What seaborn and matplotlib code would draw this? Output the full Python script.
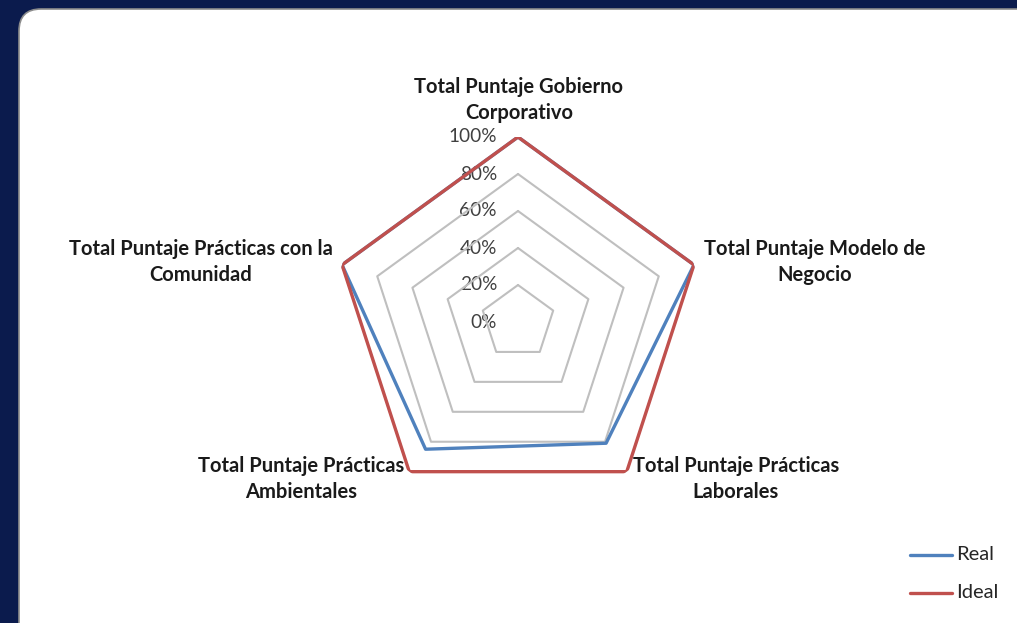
import numpy as np
import pandas as pd
import matplotlib
matplotlib.use('Agg')
import matplotlib.pyplot as plt
from matplotlib.patches import FancyBboxPatch
from matplotlib.lines import Line2D
import seaborn as sns

categorias = ['Total Puntaje Gobierno\nCorporativo',
              'Total Puntaje Modelo de\nNegocio',
              'Total Puntaje Prácticas\nLaborales',
              'Total Puntaje Prácticas\nAmbientales',
              'Total Puntaje Prácticas con la\nComunidad']
real = [1.0, 1.0, 0.81, 0.85, 1.0]
ideal = [1.0, 1.0, 1.0, 1.0, 1.0]
niveles = [0.2, 0.4, 0.6, 0.8, 1.0]
etiquetas_niveles = ['0%', '20%', '40%', '60%', '80%', '100%']

sns.set_theme(style='white')
plt.rcParams['font.family'] = ['Lato', 'DejaVu Sans']

W, H = 1017, 623
fig = plt.figure(figsize=(W / 100, H / 100), dpi=100)
fig.patch.set_facecolor('#0b1b4d')

# panel blanco con esquinas redondeadas
bg = fig.add_axes([0, 0, 1, 1])
bg.set_xlim(0, W)
bg.set_ylim(H, 0)
bg.axis('off')
bg.add_patch(FancyBboxPatch((19, 9), W + 40, H + 40,
                            boxstyle='round,pad=0,rounding_size=22',
                            facecolor='white', edgecolor='#8c8c8c', lw=1.2))

cx, cy, R = 518, 322, 185
ax = fig.add_axes([(cx - R) / W, (H - cy - R) / H, 2 * R / W, 2 * R / H],
                  projection='polar')
ax.set_theta_offset(np.pi / 2)
ax.set_theta_direction(-1)
ax.set_ylim(0, 1)
ax.axis('off')
ax.patch.set_alpha(0)

n = len(categorias)
ang = np.linspace(0, 2 * np.pi, n, endpoint=False)
ang_c = np.append(ang, ang[0])

# rejilla pentagonal
for r in niveles:
    ax.plot(ang_c, [r] * (n + 1), color='#bfbfbf', lw=1.5, zorder=1)

df = pd.DataFrame({
    'angulo': np.concatenate([ang_c, ang_c]),
    'valor': real + real[:1] + ideal + ideal[:1],
    'serie': ['Real'] * (n + 1) + ['Ideal'] * (n + 1),
})
sns.lineplot(data=df, x='angulo', y='valor', hue='serie', sort=False,
             estimator=None, hue_order=['Real', 'Ideal'],
             palette={'Real': '#4f81bd', 'Ideal': '#c0504d'},
             lw=2.4, legend=False, ax=ax, zorder=3)

# etiquetas del eje radial
for i, t in enumerate(etiquetas_niveles):
    bg.text(497, cy - i * R / 5, t, ha='right', va='center',
            fontsize=13.7, color='#404040')

# etiquetas de categorías
pos = [(519, 100), (815, 262), (736, 479), (301, 479), (201, 262)]
for (x, y), c in zip(pos, categorias):
    bg.text(x, y, c, ha='center', va='center', ma='center',
            fontsize=14.5, fontweight='bold', color='#1a1a1a', linespacing=1.38)

# leyenda
for y, nom, col in [(555, 'Real', '#4f81bd'), (593, 'Ideal', '#c0504d')]:
    bg.add_line(Line2D([910, 952], [y, y], color=col, lw=2.4))
    bg.text(956, y, nom, ha='left', va='center', fontsize=14.5, color='#262626')

fig.savefig('out.png', dpi=100, facecolor=fig.get_facecolor())
